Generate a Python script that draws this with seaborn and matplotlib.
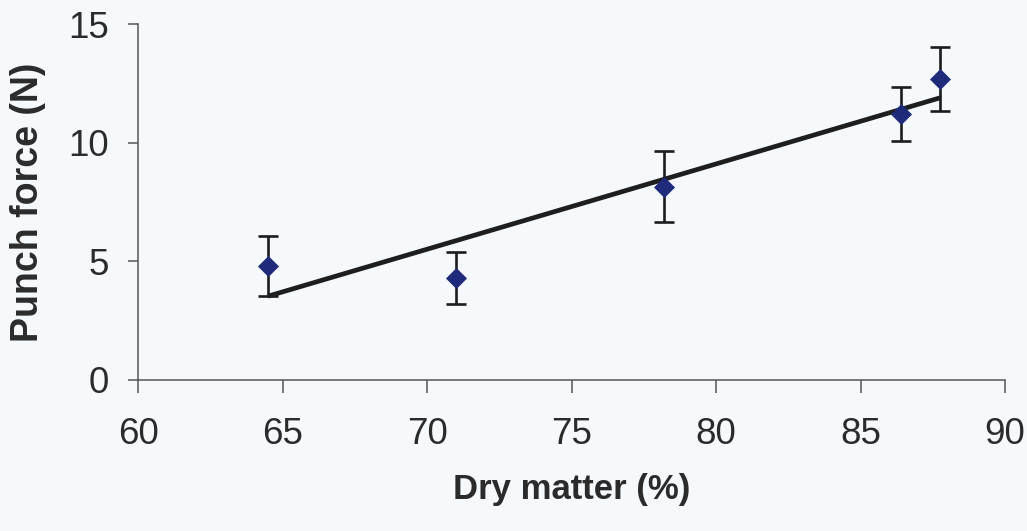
import numpy as np
import pandas as pd
import matplotlib
matplotlib.use("Agg")
import matplotlib.pyplot as plt
import seaborn as sns

# Measurements: dry matter content vs. punch force (mean ± SD)
dry_matter = [64.5, 71.0, 78.2, 86.4, 87.75]
punch_force = [4.8, 4.3, 8.15, 11.2, 12.7]
force_sd = [1.25, 1.1, 1.5, 1.15, 1.35]

x_ticks = [60, 65, 70, 75, 80, 85, 90]
y_ticks = [0, 5, 10, 15]

df = pd.DataFrame({"dm": dry_matter, "force": punch_force, "sd": force_sd})

sns.set_theme(style="ticks")
plt.rcParams["font.family"] = ["Liberation Sans", "DejaVu Sans"]

bg = "#f5f9fc"
ink = "#2b2b2b"
axis_col = "#555555"

fig = plt.figure(figsize=(10.27, 5.31), dpi=100, facecolor=bg)
ax = fig.add_axes([0.1344, 0.2844, 0.8442, 0.6704], facecolor=bg)

# error bars
ax.errorbar(df["dm"], df["force"], yerr=df["sd"], fmt="none",
            ecolor="#1c1c1c", elinewidth=1.9, capsize=7.5, capthick=1.9, zorder=2)

# least-squares trend line
sns.regplot(data=df, x="dm", y="force", ci=None, scatter=False, ax=ax,
            line_kws=dict(color="#1e1e1e", lw=3.4, solid_capstyle="butt", zorder=3))

# mean values
sns.scatterplot(data=df, x="dm", y="force", marker="D", s=115,
                color="#1f2b7a", edgecolor="#1f2b7a", linewidth=0, ax=ax, zorder=4)

ax.set_xlim(60, 90)
ax.set_ylim(0, 15)
ax.set_xticks(x_ticks)
ax.set_yticks(y_ticks)
ax.set_xticklabels([str(t) for t in x_ticks])
ax.set_yticklabels([str(t) for t in y_ticks])

for side in ("top", "right"):
    ax.spines[side].set_visible(False)
for side in ("left", "bottom"):
    ax.spines[side].set_color(axis_col)
    ax.spines[side].set_linewidth(1.1)

ax.tick_params(axis="x", direction="out", length=9, width=1.1, color=axis_col,
               labelsize=26.5, labelcolor=ink, pad=18)
ax.tick_params(axis="y", direction="out", length=7, width=1.1, color=axis_col,
               labelsize=26.5, labelcolor=ink, pad=14)

ax.set_xlabel("Dry matter (%)", fontsize=25, fontweight="bold", color=ink, labelpad=15)
ax.set_ylabel("Punch force (N)", fontsize=27, fontweight="bold", color=ink, labelpad=16)

fig.savefig("out.png", dpi=100, facecolor=bg)
